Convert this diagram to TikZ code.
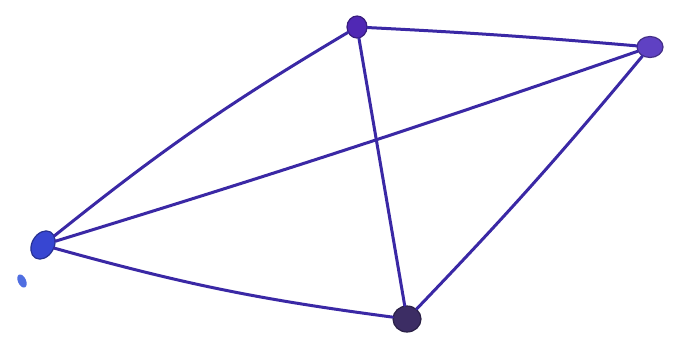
\documentclass[tikz,border=0pt]{standalone}
\usetikzlibrary{shapes.geometric}
\begin{document}
\begin{tikzpicture}[x=1pt,y=-1pt,
  ink/.style={draw=inkc,line width=3pt,line cap=round},
  vert/.style={ellipse,fill=#1,draw=#1!70!black,line width=1.2pt,inner sep=0pt}]
\definecolor{inkc}{RGB}{58,40,165}
\definecolor{vtop}{RGB}{80,40,180}
\definecolor{vright}{RGB}{95,65,195}
\definecolor{vleft}{RGB}{55,70,210}
\definecolor{vbot}{RGB}{60,45,100}
\definecolor{dotc}{RGB}{80,110,225}
\useasboundingbox[fill=white] (0,0) rectangle (676,349);
\node[vert=vtop,minimum width=20pt,minimum height=22pt] (t) at (357,27) {};
\node[vert=vright,minimum width=26pt,minimum height=21pt] (r) at (650,47) {};
\node[vert=vleft,minimum width=22pt,minimum height=30pt,rotate=-30] (l) at (43,245) {};
\node[vert=vbot,minimum width=28pt,minimum height=26pt] (b) at (407,319) {};
\node[ellipse,fill=dotc,inner sep=0pt,minimum width=8pt,minimum height=14pt,rotate=25] (d) at (22,281) {};
\draw[ink] (t) to[bend left=1] (r);
\draw[ink] (l) to[bend left=4] (t);
\draw[ink] (t) -- (b);
\draw[ink] (l) to[bend right=1] (r);
\draw[ink] (r) to[bend left=2] (b);
\draw[ink] (l) to[bend right=4] (b);
\end{tikzpicture}
\end{document}
